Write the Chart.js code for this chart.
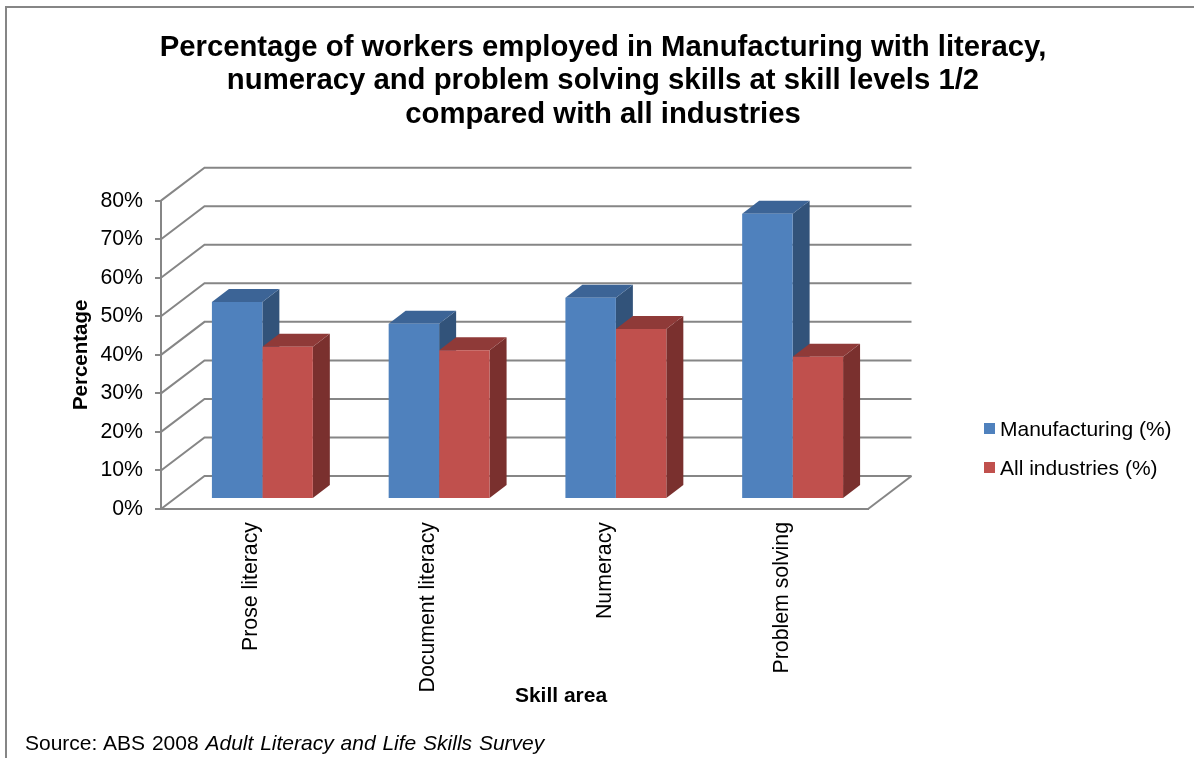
<!DOCTYPE html>
<html>
<head>
<meta charset="utf-8">
<title>Manufacturing skills</title>
<script src="https://cdn.jsdelivr.net/npm/chart.js@4"></script>
<style>
	html, body { margin: 0; padding: 0; background: #fff; overflow: hidden; }
	#wrap { position: relative; width: 1194px; height: 758px; }
	#frame { position: absolute; left: 5px; top: 6px; right: 0; bottom: 0; border-left: 2px solid #868686; border-top: 2px solid #868686; }
	#myChart { position: absolute; left: 0; top: 0; }
	#source { position: absolute; left: 25px; top: 731px; font: 21px "Liberation Sans", Arial, sans-serif; word-spacing: 1px; color: #000; white-space: nowrap; }
</style>
</head>
<body>
<div id="wrap">
	<div id="frame"></div>
	<canvas id="myChart" width="1194" height="758"></canvas>
	<div id="source">Source: ABS 2008 <i>Adult Literacy and Life Skills Survey</i></div>
</div>
<script>
var chartTitle = [
	'Percentage of workers employed in Manufacturing with literacy,',
	'numeracy and problem solving skills at skill levels 1/2',
	'compared with all industries'
];
var skillAreas = ['Prose literacy', 'Document literacy', 'Numeracy', 'Problem solving'];
var manufacturing = [51.1, 45.5, 52.2, 74];
var allIndustries = [39.5, 38.6, 44.1, 36.9];
var percentTicks = [0, 10, 20, 30, 40, 50, 60, 70, 80];

var fontName = '"Liberation Sans", Arial, sans-serif';
var gridColor = '#868686';

// how far the back wall sits from the front axes, and the bars from the front edge
var wallX = 43.5, wallY = -33;
var barX = 13, barY = -10;
var sideX = 17, sideY = -13;

var faces = [
	{ front: '#4f81bd', top: '#3c6496', side: '#32537a' },
	{ front: '#c0504d', top: '#8f3a38', side: '#7a302e' }
];

function poly(ctx, pts, color) {
	ctx.fillStyle = color;
	ctx.beginPath();
	ctx.moveTo(pts[0][0], pts[0][1]);
	for (var i = 1; i < pts.length; i++) ctx.lineTo(pts[i][0], pts[i][1]);
	ctx.closePath();
	ctx.fill();
}

var depth3d = {
	id: 'depth3d',
	afterLayout: function (chart) {
		// title is centred over the whole frame, not just the plot
		chart.titleBlock.left = 12;
		chart.titleBlock.right = 1194;
		chart.titleBlock.width = 1182;
	},
	beforeDatasetsDraw: function (chart) {
		var ctx = chart.ctx, y = chart.scales.y, area = chart.chartArea;
		ctx.save();
		ctx.strokeStyle = gridColor;
		ctx.lineWidth = 2;
		percentTicks.forEach(function (v) {
			var py = y.getPixelForValue(v);
			ctx.beginPath();
			ctx.moveTo(area.left, py);
			ctx.lineTo(area.left + wallX, py + wallY);
			ctx.lineTo(area.right + wallX, py + wallY);
			ctx.stroke();
		});
		// right edge of the floor
		ctx.beginPath();
		ctx.moveTo(area.right, area.bottom);
		ctx.lineTo(area.right + wallX, area.bottom + wallY);
		ctx.stroke();

		// sides and tops go first, first series first, so red sits over the blue side
		ctx.translate(barX, barY);
		faces.forEach(function (face, i) {
			chart.getDatasetMeta(i).data.forEach(function (bar) {
				var l = bar.x - bar.width / 2, r = bar.x + bar.width / 2;
				poly(ctx, [[r, bar.y], [r + sideX, bar.y + sideY], [r + sideX, bar.base + sideY], [r, bar.base]], face.side);
				poly(ctx, [[l, bar.y], [l + sideX, bar.y + sideY], [r + sideX, bar.y + sideY], [r, bar.y]], face.top);
			});
		});
		ctx.restore();
	},
	beforeDatasetDraw: function (chart) {
		chart.ctx.save();
		chart.ctx.translate(barX, barY);
	},
	afterDatasetDraw: function (chart) {
		chart.ctx.restore();
	},
	afterDraw: function (chart) {
		var ctx = chart.ctx;
		ctx.save();
		ctx.textBaseline = 'middle';
		ctx.fillStyle = '#000';
		// x axis caption
		ctx.font = 'bold 21px ' + fontName;
		ctx.textAlign = 'center';
		ctx.fillText('Skill area', 561, 696);
		// legend
		ctx.font = '21px ' + fontName;
		ctx.textAlign = 'left';
		chart.data.datasets.forEach(function (ds, i) {
			var ly = 429 + i * 39;
			ctx.fillStyle = ds.backgroundColor;
			ctx.fillRect(984, ly - 6, 11, 11);
			ctx.fillStyle = '#000';
			ctx.fillText(ds.label, 1000, ly + 1);
		});
		ctx.restore();
	}
};

var ctx = document.getElementById('myChart').getContext('2d');
var myChart = new Chart(ctx, {
	type: 'bar',
	data: {
		labels: skillAreas,
		datasets: [
			{ label: 'Manufacturing (%)', data: manufacturing, backgroundColor: faces[0].front },
			{ label: 'All industries (%)', data: allIndustries, backgroundColor: faces[1].front }
		]
	},
	plugins: [depth3d],
	options: {
		responsive: false,
		animation: false,
		events: [],
		barPercentage: 1,
		categoryPercentage: 0.571,
		layout: { padding: { left: 60, right: 326, top: 0, bottom: 0 } },
		plugins: {
			legend: { display: false },
			tooltip: { enabled: false },
			title: {
				display: true,
				text: chartTitle,
				color: '#000',
				font: { family: fontName, size: 29.3, weight: 'bold', lineHeight: 1.143 },
				padding: { top: 31, bottom: 69.2 }
			}
		},
		scales: {
			x: {
				afterFit: function (s) { s.height = 249; },
				grid: { display: false, drawTicks: false },
				border: { color: gridColor, width: 2 },
				ticks: {
					autoSkip: false,
					minRotation: 90,
					maxRotation: 90,
					padding: 13,
					labelOffset: 2,
					color: '#000',
					font: { family: fontName, size: 21.3 }
				}
			},
			y: {
				min: 0,
				max: 80,
				afterFit: function (s) { s.width = 101; },
				afterBuildTicks: function (s) {
					s.ticks = percentTicks.map(function (v) { return { value: v }; });
				},
				grid: { drawOnChartArea: false, tickLength: 6, color: gridColor, lineWidth: 2 },
				border: { color: gridColor, width: 2 },
				ticks: {
					padding: 12,
					color: '#000',
					font: { family: fontName, size: 21.3 },
					callback: function (v) { return v + '%'; }
				},
				title: {
					display: true,
					text: 'Percentage',
					color: '#000',
					font: { family: fontName, size: 20.5, weight: 'bold' },
					padding: { top: 9, bottom: 0 }
				}
			}
		}
	}
});
</script>
</body>
</html>
